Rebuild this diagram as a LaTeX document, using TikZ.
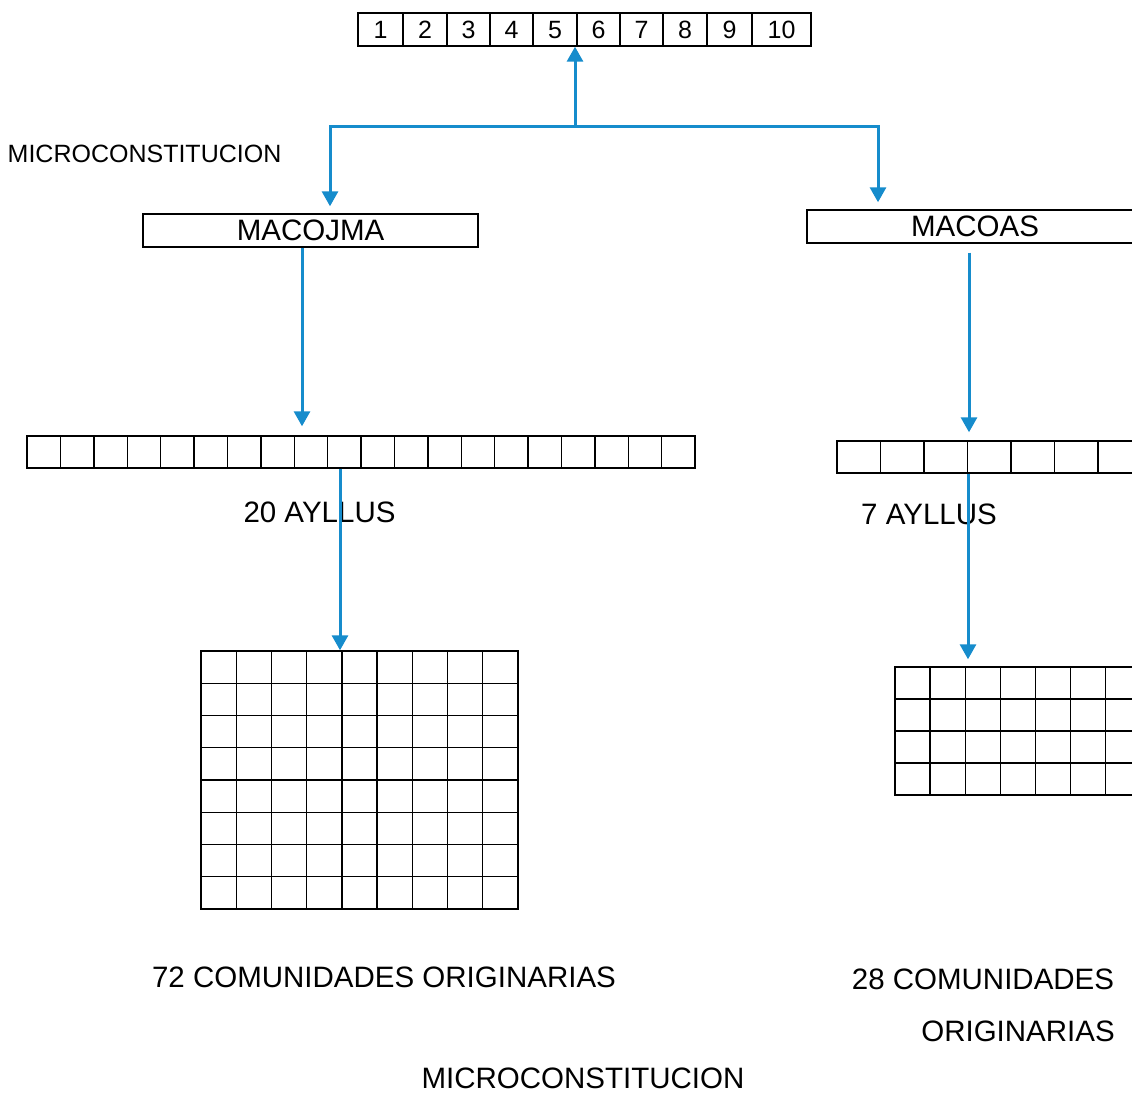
\documentclass[tikz,border=0pt]{standalone}
\usepackage{fontspec}
\setmainfont{Liberation Sans}
\usetikzlibrary{arrows.meta,positioning,calc}
\definecolor{flowblue}{RGB}{22,140,204}

\begin{document}
\begin{tikzpicture}[x=1pt, y=-1pt]
    \tikzstyle{cellrow} = [rectangle, draw, line width=1.4pt, inner sep=0pt]
    \tikzstyle{cellline} = [line width=1.4pt]
    \tikzstyle{txt} = [font=\fontsize{29.5}{34}\selectfont, inner sep=0pt]
    \tikzstyle{smalltxt} = [font=\fontsize{25}{30}\selectfont, inner sep=0pt]
    \tikzstyle{link} = [draw=flowblue, line width=3pt]
    \tikzstyle{flow} = [link, -{Triangle[width=16pt,length=15pt]}]

    \useasboundingbox (0,0) rectangle (1132,1094);
    \clip (0,0) rectangle (1132,1094);

    % numbered row at the top
    \node[cellrow, minimum width=453pt, minimum height=33pt] (nums) at (584.5,29.5) {};
    \foreach \x in {403,447,490,533,577,620,663,707,752}
        \draw[cellline] (\x,13) -- (\x,46);
    \foreach \n/\cx in {1/380.5,2/425,3/468.5,4/511.5,5/555,6/598.5,7/641.5,8/685,9/729.5,10/781.5}
        \node[smalltxt] (num\n) at (\cx,30) {\n};

    \node[smalltxt] (microtop) at (144.5,154) {MICROCONSTITUCION};

    % the two boxes
    \node[cellrow, txt, minimum width=335pt, minimum height=33pt] (macojma) at (310.5,230.5) {MACOJMA};
    \node[cellrow, txt, minimum width=336pt, minimum height=33pt] (macoas) at (975,226.5) {MACOAS};

    % rows of ayllus
    \node[cellrow, minimum width=668pt, minimum height=32pt] (ayllus20) at (361,452) {};
    \foreach \i in {1,...,19}
        \draw[cellline] ({27+\i*33.4},436) -- ++(0,32);
    \node[cellrow, minimum width=304.5pt, minimum height=32pt] (ayllus7) at (989.25,457) {};
    \foreach \i in {1,...,6}
        \draw[cellline] ({837+\i*43.5},441) -- ++(0,32);

    \node[txt] (lbl20) at (319.5,512) {20 AYLLUS};
    \node[txt] (lbl7) at (929,514) {7 AYLLUS};

    % grids of comunidades
    \node[cellrow, minimum width=317pt, minimum height=258pt] (comun72) at (359.5,780) {};
    \foreach \i in {1,...,8}
        \draw[cellline] ({201+\i*35.22},651) -- ++(0,258);
    \foreach \j in {1,...,7}
        \draw[cellline] (201,{651+\j*32.25}) -- ++(317,0);
    \node[cellrow, minimum width=245.7pt, minimum height=128pt] (comun28) at (1017.85,731) {};
    \foreach \i in {1,...,6}
        \draw[cellline] ({895+\i*35.1},667) -- ++(0,128);
    \foreach \j in {1,...,3}
        \draw[cellline] (895,{667+\j*32}) -- ++(245.7,0);

    \node[txt] (lbl72) at (384,977) {72 COMUNIDADES ORIGINARIAS};
    \node[txt] (lbl28a) at (983,979) {28 COMUNIDADES};
    \node[txt] (lbl28b) at (1018,1031) {ORIGINARIAS};
    \node[txt] (microbot) at (583,1078) {MICROCONSTITUCION};

    % blue connectors
    \coordinate (junc) at (575,127);
    \coordinate (jl) at (330,127);
    \coordinate (jr) at (878,127);
    \coordinate (dl) at (302,0);
    \coordinate (dl2) at (340,0);
    \coordinate (dr) at (969,0);
    \coordinate (dr2) at (968,0);

    \draw[link, line cap=rect] (jl) -- (jr);
    \draw[flow] (junc) -- (junc |- nums.south);
    \draw[flow, shorten >=7pt] (jl) -- (jl |- macojma.north);
    \draw[flow, shorten >=7pt] (jr) -- (jr |- macoas.north);
    \draw[flow, shorten >=9pt] (dl |- macojma.south) -- (dl |- ayllus20.north);
    \draw[flow] (dl2 |- ayllus20.south) -- (dl2 |- comun72.north);
    \draw[flow, shorten <=9pt, shorten >=8pt] (dr |- macoas.south) -- (dr |- ayllus7.north);
    \draw[flow, shorten >=7pt] (dr2 |- ayllus7.south) -- (dr2 |- comun28.north);
\end{tikzpicture}
\end{document}
